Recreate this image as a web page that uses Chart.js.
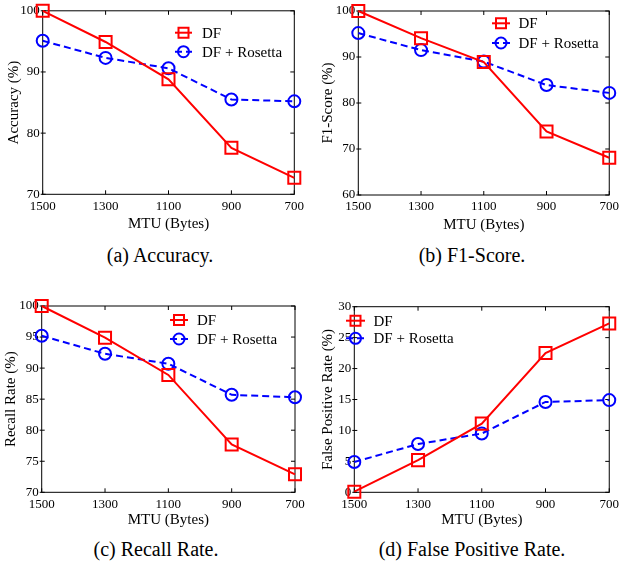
<!DOCTYPE html>
<html lang="en">
<head>
    <meta charset="UTF-8">
    <title>DF vs DF + Rosetta</title>
    <script src="https://cdn.jsdelivr.net/npm/chart.js"></script>
    <style>
        body {
            margin: 0;
            padding: 0;
            background: #fff;
            font-family: "Liberation Serif", "Times New Roman", serif;
        }
        #page {
            position: relative;
            width: 623px;
            height: 565px;
        }
        .panel {
            position: absolute;
        }
        .caption {
            position: absolute;
            font-size: 20px;
            line-height: 24px;
            color: #000;
            white-space: nowrap;
            transform: translateX(-50%);
        }
    </style>
</head>
<body>
    <div id="page">
        <canvas class="panel" id="accChart" width="311" height="240" style="left:0;top:0"></canvas>
        <canvas class="panel" id="f1Chart" width="312" height="240" style="left:311px;top:0"></canvas>
        <canvas class="panel" id="recallChart" width="311" height="240" style="left:0;top:290px"></canvas>
        <canvas class="panel" id="fprChart" width="312" height="240" style="left:311px;top:290px"></canvas>

        <div class="caption" style="left:160px;top:243px">(a) Accuracy.</div>
        <div class="caption" style="left:472px;top:243px">(b) F1-Score.</div>
        <div class="caption" style="left:156px;top:537px">(c) Recall Rate.</div>
        <div class="caption" style="left:472px;top:537px">(d) False Positive Rate.</div>
    </div>

    <script>
        const mtuLabels = ['1500', '1300', '1100', '900', '700'];
        const seriesNames = ['DF', 'DF + Rosetta'];

        const accuracyDF = [100, 94.9, 88.8, 77.6, 72.7];
        const accuracyRosetta = [95.1, 92.3, 90.6, 85.5, 85.2];
        const f1DF = [100, 94.1, 88.9, 73.8, 68.1];
        const f1Rosetta = [95.2, 91.5, 89.0, 83.9, 82.2];
        const recallDF = [100, 94.9, 88.9, 77.7, 72.9];
        const recallRosetta = [95.2, 92.3, 90.7, 85.7, 85.3];
        const fprDF = [0.1, 5.2, 11.1, 22.5, 27.3];
        const fprRosetta = [4.9, 7.8, 9.5, 14.6, 14.9];

        // y tick values per panel
        const accuracyTicks = [70, 80, 90, 100];
        const f1Ticks = [60, 70, 80, 90, 100];
        const recallTicks = [70, 75, 80, 85, 90, 95, 100];
        const fprTicks = [0, 5, 10, 15, 20, 25, 30];

        const serif = '"Liberation Serif", "Times New Roman", serif';
        Chart.defaults.font.family = serif;
        Chart.defaults.color = '#000';

        // box around plot area, inward ticks on all sides, legend inside plot
        const framePlugin = {
            id: 'frame',
            beforeDatasetsDraw(chart) {
                const { ctx, chartArea: a, scales: { x, y } } = chart;
                ctx.save();
                ctx.strokeStyle = '#000';
                ctx.lineWidth = 1;
                ctx.strokeRect(a.left, a.top, a.right - a.left, a.bottom - a.top);
                ctx.beginPath();
                x.ticks.forEach((t, i) => {
                    const px = x.getPixelForTick(i);
                    ctx.moveTo(px, a.bottom); ctx.lineTo(px, a.bottom - 4);
                    ctx.moveTo(px, a.top); ctx.lineTo(px, a.top + 4);
                });
                y.ticks.forEach((t, i) => {
                    const py = y.getPixelForTick(i);
                    ctx.moveTo(a.left - 2, py); ctx.lineTo(a.left + 3, py);
                    ctx.moveTo(a.right, py); ctx.lineTo(a.right - 4, py);
                });
                ctx.stroke();
                ctx.restore();
            },
            afterDraw(chart, args, opts) {
                const { ctx } = chart;
                ctx.save();
                chart.data.datasets.forEach((ds, i) => {
                    const yy = opts.rows[i];
                    const x0 = opts.x0, x1 = opts.x1, xm = (x0 + x1) / 2;
                    ctx.strokeStyle = ds.borderColor;
                    ctx.lineWidth = 2;
                    ctx.setLineDash(ds.borderDash || []);
                    ctx.beginPath();
                    ctx.moveTo(x0, yy); ctx.lineTo(x1, yy);
                    ctx.stroke();
                    ctx.setLineDash([]);
                    ctx.beginPath();
                    if (ds.pointStyle === 'rect') {
                        ctx.rect(xm - 5, yy - 5, 10, 10);
                    } else {
                        ctx.arc(xm, yy, 5.5, 0, Math.PI * 2);
                    }
                    ctx.stroke();
                    ctx.fillStyle = '#000';
                    ctx.font = '15px ' + serif;
                    ctx.textBaseline = 'middle';
                    ctx.fillText(ds.label, opts.textX, yy + 1);
                });
                ctx.restore();
            }
        };

        function makeChart(id, cfg) {
            const ticks = cfg.ticks;
            return new Chart(document.getElementById(id), {
                type: 'line',
                data: {
                    labels: mtuLabels,
                    datasets: [{
                        label: seriesNames[0],
                        data: cfg.df,
                        borderColor: '#ff0000',
                        backgroundColor: 'transparent',
                        borderWidth: 2,
                        pointStyle: 'rect',
                        pointRadius: 8.5,
                        pointBorderWidth: 2,
                        pointBorderColor: '#ff0000',
                        pointBackgroundColor: 'transparent',
                        clip: false,
                        tension: 0
                    }, {
                        label: seriesNames[1],
                        data: cfg.rosetta,
                        borderColor: '#0000ff',
                        backgroundColor: 'transparent',
                        borderWidth: 2,
                        borderDash: [7, 4],
                        pointStyle: 'circle',
                        pointRadius: 6,
                        pointBorderWidth: 2,
                        pointBorderColor: '#0000ff',
                        pointBackgroundColor: 'transparent',
                        clip: false,
                        tension: 0
                    }]
                },
                options: {
                    responsive: false,
                    animation: false,
                    layout: { padding: cfg.padding },
                    plugins: {
                        legend: { display: false },
                        tooltip: { enabled: false },
                        frame: cfg.legend
                    },
                    scales: {
                        x: {
                            type: 'category',
                            offset: false,
                            grid: { display: false, drawTicks: false },
                            border: { display: false },
                            ticks: { font: { size: 13, family: serif }, padding: 4, maxRotation: 0, autoSkip: false },
                            title: { display: true, text: 'MTU (Bytes)', font: { size: 15, family: serif }, padding: 0 },
                            afterFit: s => { s.height = cfg.xHeight; }
                        },
                        y: {
                            min: ticks[0],
                            max: ticks[ticks.length - 1],
                            grid: { display: false, drawTicks: false },
                            border: { display: false },
                            ticks: { stepSize: ticks[1] - ticks[0], font: { size: 13, family: serif }, padding: 3 },
                            title: { display: true, text: cfg.yTitle, font: { size: 15, family: serif }, padding: { top: cfg.yTitlePad, bottom: 0 } },
                            afterFit: s => { s.width = cfg.yWidth; }
                        }
                    }
                },
                plugins: [framePlugin]
            });
        }

        function drawAll() {
            makeChart('accChart', {
                df: accuracyDF, rosetta: accuracyRosetta, ticks: accuracyTicks,
                yTitle: 'Accuracy (%)', yTitlePad: 5,
                yWidth: 42.7, xHeight: 38.7,
                padding: { left: 0, top: 10.7, right: 16.7, bottom: 7 },
                legend: { x0: 175, x1: 192, textX: 202, rows: [32.7, 51.7] }
            });

            makeChart('f1Chart', {
                df: f1DF, rosetta: f1Rosetta, ticks: f1Ticks,
                yTitle: 'F1-Score (%)', yTitlePad: 8,
                yWidth: 47.3, xHeight: 38.7,
                padding: { left: 0, top: 11, right: 13, bottom: 6.3 },
                legend: { x0: 181, x1: 199, textX: 207.5, rows: [23.3, 43] }
            });

            makeChart('recallChart', {
                df: recallDF, rosetta: recallRosetta, ticks: recallTicks,
                yTitle: 'Recall Rate (%)', yTitlePad: 2,
                yWidth: 41.7, xHeight: 36.7,
                padding: { left: 0, top: 16, right: 16, bottom: 1 },
                legend: { x0: 170, x1: 188, textX: 197, rows: [30, 49] }
            });

            makeChart('fprChart', {
                df: fprDF, rosetta: fprRosetta, ticks: fprTicks,
                yTitle: 'False Positive Rate (%)', yTitlePad: 8,
                yWidth: 43.3, xHeight: 36.7,
                padding: { left: 0, top: 16.7, right: 11.3, bottom: 1 },
                legend: { x0: 35, x1: 54, textX: 62.5, rows: [30.7, 48.3] }
            });
        }

        // make sure the serif face is ready before the canvases draw text
        Promise.all([
            document.fonts.load('13px "Liberation Serif"'),
            document.fonts.load('15px "Liberation Serif"')
        ]).then(drawAll, drawAll);
    </script>
</body>
</html>
